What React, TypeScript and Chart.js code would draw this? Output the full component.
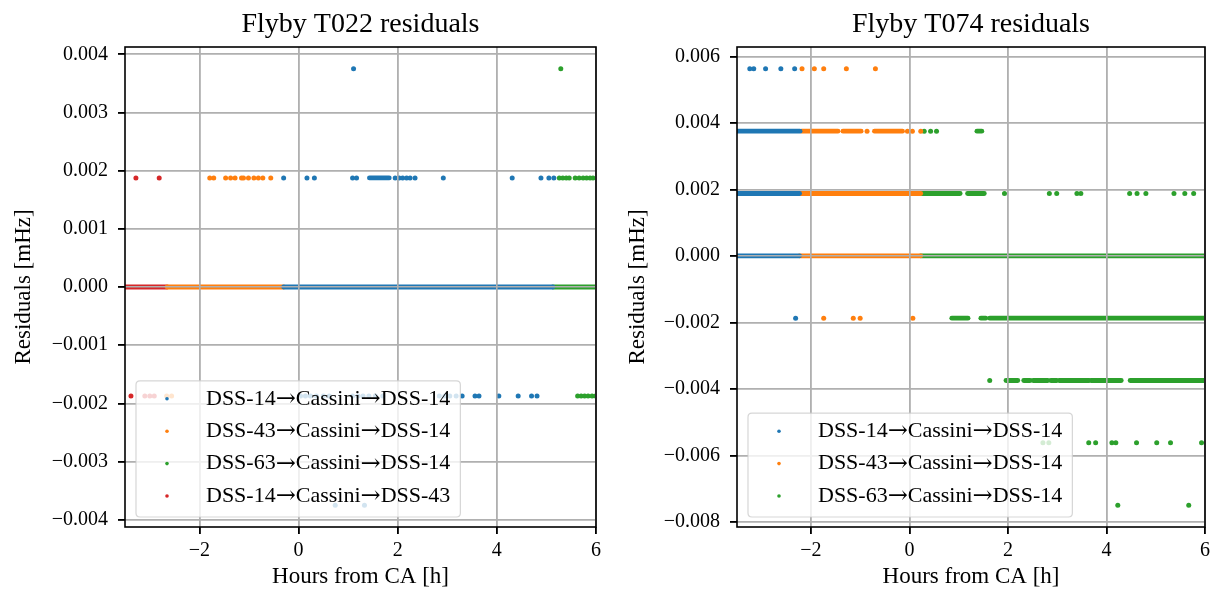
import React, { useEffect, useRef } from "react";
import { Chart, registerables } from "chart.js";

Chart.register(...registerables);

const FONT = "'Liberation Serif', 'DejaVu Serif', serif";
const ARROW_FONT = "24px 'DejaVu Serif', serif";

const seriesColors = ["#1f77b4", "#ff7f0e", "#2ca02c", "#d62728"];

const xTicks = [-2, 0, 2, 4, 6];
const xRange = [-3.5, 6];

// ---------------- Flyby T022 ----------------
const t022Title = "Flyby T022 residuals";
const t022Labels = [
  "DSS-14→Cassini→DSS-14",
  "DSS-43→Cassini→DSS-14",
  "DSS-63→Cassini→DSS-14",
  "DSS-14→Cassini→DSS-43",
];
const t022YTicks = [-0.004, -0.003, -0.002, -0.001, 0, 0.001, 0.002, 0.003, 0.004];
const t022YRange = [-0.004125, 0.004125];

const t022Dss14Points: [number, number][] = [
  [1.11, 0.00375],
  [-0.3, 0.001875], [0.17, 0.001875], [0.32, 0.001875], [1.09, 0.001875], [1.17, 0.001875],
  [1.95, 0.001875], [2.03, 0.001875], [2.1, 0.001875], [2.18, 0.001875], [2.25, 0.001875],
  [2.35, 0.001875], [2.92, 0.001875], [4.31, 0.001875], [4.89, 0.001875], [5.05, 0.001875],
  [5.15, 0.001875],
  [0.04, -0.001875], [0.14, -0.001875], [0.24, -0.001875], [0.36, -0.001875], [0.5, -0.001875],
  [0.62, -0.001875], [1.09, -0.001875], [1.2, -0.001875], [1.3, -0.001875], [1.42, -0.001875],
  [1.55, -0.001875], [1.7, -0.001875], [2.84, -0.001875], [2.95, -0.001875], [3.05, -0.001875],
  [3.18, -0.001875], [3.3, -0.001875], [3.56, -0.001875], [3.64, -0.001875], [4.04, -0.001875],
  [4.43, -0.001875], [4.7, -0.001875], [4.81, -0.001875],
  [0.74, -0.00375], [1.33, -0.00375],
];
const t022Dss14Runs: [number, number, number][] = [
  [-0.3, 5.13, 0],
  [1.43, 1.83, 0.001875],
];
const t022Dss43Points: [number, number][] = [
  [-1.79, 0.001875], [-1.71, 0.001875], [-1.47, 0.001875], [-1.37, 0.001875], [-1.28, 0.001875],
  [-1.15, 0.001875], [-1.11, 0.001875], [-1.01, 0.001875], [-0.9, 0.001875], [-0.81, 0.001875],
  [-0.72, 0.001875], [-0.56, 0.001875],
  [-2.66, -0.001875], [-2.56, -0.001875],
];
const t022Dss43Runs: [number, number, number][] = [[-2.65, -0.3, 0]];
const t022Dss63Points: [number, number][] = [
  [5.29, 0.00375],
  [5.26, 0.001875], [5.33, 0.001875], [5.4, 0.001875], [5.46, 0.001875], [5.58, 0.001875],
  [5.66, 0.001875], [5.74, 0.001875], [5.81, 0.001875], [5.88, 0.001875], [5.94, 0.001875],
  [5.63, -0.001875], [5.7, -0.001875], [5.77, -0.001875], [5.84, -0.001875], [5.92, -0.001875],
  [5.99, -0.001875],
];
const t022Dss63Runs: [number, number, number][] = [[5.13, 6.0, 0]];
const t022Dss14to43Points: [number, number][] = [
  [-3.28, 0.001875], [-2.81, 0.001875],
  [-3.38, -0.001875], [-3.1, -0.001875], [-3.0, -0.001875], [-2.91, -0.001875],
];
const t022Dss14to43Runs: [number, number, number][] = [[-3.5, -2.65, 0]];

// ---------------- Flyby T074 ----------------
const t074Title = "Flyby T074 residuals";
const t074Labels = [
  "DSS-14→Cassini→DSS-14",
  "DSS-43→Cassini→DSS-14",
  "DSS-63→Cassini→DSS-14",
];
const t074YTicks = [-0.008, -0.006, -0.004, -0.002, 0, 0.002, 0.004, 0.006];
const t074YRange = [-0.0081563, 0.0062813];

const t074Dss14Points: [number, number][] = [
  [-3.24, 0.005625], [-3.16, 0.005625], [-2.92, 0.005625], [-2.61, 0.005625], [-2.33, 0.005625],
  [-2.31, -0.001875],
];
const t074Dss14Runs: [number, number, number][] = [
  [-3.5, -2.22, 0.00375],
  [-3.5, -2.23, 0.001875],
  [-3.5, -2.23, 0],
];
const t074Dss43Points: [number, number][] = [
  [-2.18, 0.005625], [-1.93, 0.005625], [-1.74, 0.005625], [-1.28, 0.005625], [-0.69, 0.005625],
  [-0.86, 0.00375], [-0.04, 0.00375], [0.06, 0.00375], [0.23, 0.00375],
  [-1.74, -0.001875], [-1.14, -0.001875], [-1.0, -0.001875], [0.07, -0.001875],
];
const t074Dss43Runs: [number, number, number][] = [
  [-2.19, -1.45, 0.00375],
  [-1.35, -0.98, 0.00375],
  [-0.71, -0.14, 0.00375],
  [-2.23, 0.23, 0.001875],
  [-2.23, 0.23, 0],
];
const t074Dss63Points: [number, number][] = [
  [0.3, 0.00375], [0.43, 0.00375], [0.55, 0.00375],
  [1.93, 0.001875], [2.84, 0.001875], [2.99, 0.001875], [3.4, 0.001875], [3.48, 0.001875],
  [4.47, 0.001875], [4.62, 0.001875], [4.8, 0.001875], [5.37, 0.001875], [5.59, 0.001875],
  [5.77, 0.001875],
  [1.63, -0.00375],
  [2.71, -0.005625], [2.83, -0.005625], [3.64, -0.005625], [3.78, -0.005625], [4.11, -0.005625],
  [4.19, -0.005625], [4.61, -0.005625], [5.02, -0.005625], [5.3, -0.005625], [5.93, -0.005625],
  [4.23, -0.0075], [5.67, -0.0075],
];
const t074Dss63Runs: [number, number, number][] = [
  [1.37, 1.47, 0.00375],
  [0.25, 1.03, 0.001875],
  [1.18, 1.52, 0.001875],
  [0.23, 6.0, 0],
  [0.86, 1.19, -0.001875],
  [1.45, 1.55, -0.001875],
  [1.63, 6.0, -0.001875],
  [1.96, 2.2, -0.00375],
  [2.32, 2.45, -0.00375],
  [2.51, 2.81, -0.00375],
  [2.87, 2.99, -0.00375],
  [3.04, 3.65, -0.00375],
  [3.69, 3.98, -0.00375],
  [4.01, 4.3, -0.00375],
  [4.48, 6.0, -0.00375],
];

type Series = {
  label: string;
  color: string;
  points: [number, number][];
  runs: [number, number, number][];
};

const t022Series: Series[] = [
  { label: t022Labels[0], color: seriesColors[0], points: t022Dss14Points, runs: t022Dss14Runs },
  { label: t022Labels[1], color: seriesColors[1], points: t022Dss43Points, runs: t022Dss43Runs },
  { label: t022Labels[2], color: seriesColors[2], points: t022Dss63Points, runs: t022Dss63Runs },
  { label: t022Labels[3], color: seriesColors[3], points: t022Dss14to43Points, runs: t022Dss14to43Runs },
];
const t074Series: Series[] = [
  { label: t074Labels[0], color: seriesColors[0], points: t074Dss14Points, runs: t074Dss14Runs },
  { label: t074Labels[1], color: seriesColors[1], points: t074Dss43Points, runs: t074Dss43Runs },
  { label: t074Labels[2], color: seriesColors[2], points: t074Dss63Points, runs: t074Dss63Runs },
];

const fmtSigned = (v: number, digits: number) => {
  const s = Math.abs(v).toFixed(digits);
  return (v < -1e-12 ? "\u2212" : "") + s;
};

// split a label into text / arrow pieces so the arrow can use a font with a full-size glyph
const labelPieces = (label: string) => {
  const out: { t: string; arrow: boolean }[] = [];
  label.split("→").forEach((part, i) => {
    if (i > 0) out.push({ t: "→", arrow: true });
    if (part) out.push({ t: part, arrow: false });
  });
  return out;
};

const overlayPlugin = {
  id: "overlay",
  afterDatasetsDraw(chart: any, _args: any, opts: any) {
    const { ctx, chartArea: a } = chart;
    // grid above data (matplotlib draws grid over scatter collections)
    chart.scales.x.drawGrid(a);
    chart.scales.y.drawGrid(a);
    // frame
    ctx.save();
    ctx.strokeStyle = "#000";
    ctx.lineWidth = 1.6;
    ctx.strokeRect(a.left, a.top, a.right - a.left, a.bottom - a.top);
    ctx.restore();
    // legend
    const items: { label: string; color: string }[] = opts.items || [];
    if (!items.length) return;
    ctx.save();
    const textFont = `22px ${FONT}`;
    const measure = (label: string) => {
      let w = 0;
      labelPieces(label).forEach((pc) => {
        ctx.font = pc.arrow ? ARROW_FONT : textFont;
        w += ctx.measureText(pc.t).width;
      });
      return w;
    };
    let maxW = 0;
    items.forEach((it) => {
      maxW = Math.max(maxW, measure(it.label));
    });
    const rowH = 32.4;
    const w = 70 + maxW + 10;
    const h = 18 + (items.length - 1) * rowH + 21;
    const x0 = a.left + 11;
    const y0 = a.bottom - 10 - h;
    const r = 4;
    ctx.beginPath();
    ctx.moveTo(x0 + r, y0);
    ctx.lineTo(x0 + w - r, y0);
    ctx.quadraticCurveTo(x0 + w, y0, x0 + w, y0 + r);
    ctx.lineTo(x0 + w, y0 + h - r);
    ctx.quadraticCurveTo(x0 + w, y0 + h, x0 + w - r, y0 + h);
    ctx.lineTo(x0 + r, y0 + h);
    ctx.quadraticCurveTo(x0, y0 + h, x0, y0 + h - r);
    ctx.lineTo(x0, y0 + r);
    ctx.quadraticCurveTo(x0, y0, x0 + r, y0);
    ctx.closePath();
    ctx.fillStyle = "rgba(255,255,255,0.8)";
    ctx.fill();
    ctx.strokeStyle = "rgba(204,204,204,0.8)";
    ctx.lineWidth = 1.2;
    ctx.stroke();
    items.forEach((it, i) => {
      const cy = y0 + 18 + i * rowH;
      ctx.beginPath();
      ctx.arc(x0 + 31, cy, 1.8, 0, Math.PI * 2);
      ctx.fillStyle = it.color;
      ctx.fill();
      ctx.fillStyle = "#000";
      ctx.textBaseline = "middle";
      ctx.textAlign = "left";
      let tx = x0 + 70;
      labelPieces(it.label).forEach((pc) => {
        ctx.font = pc.arrow ? ARROW_FONT : textFont;
        ctx.fillText(pc.t, tx, pc.arrow ? cy + 1 : cy);
        tx += ctx.measureText(pc.t).width;
      });
    });
    ctx.restore();
  },
};

type PanelProps = {
  title: string;
  series: Series[];
  yRange: number[];
  yTicks: number[];
  left: number;
  width: number;
  yAxisWidth: number;
  yTitlePad: number;
  rightPad: number;
};

function Panel(p: PanelProps) {
  const ref = useRef<HTMLCanvasElement | null>(null);
  useEffect(() => {
    if (!ref.current) return;
    const datasets: any[] = [];
    p.series.forEach((s) => {
      s.runs.forEach(([x0, x1, y]) => {
        datasets.push({
          label: s.label,
          data: [
            { x: x0, y },
            { x: x1, y },
          ],
          showLine: true,
          borderColor: s.color,
          borderWidth: 4.8,
          borderCapStyle: "round",
          pointRadius: 0,
          fill: false,
        });
      });
      datasets.push({
        label: s.label,
        data: s.points.map(([x, y]) => ({ x, y })),
        showLine: false,
        pointRadius: 2.5,
        pointBorderWidth: 0,
        pointBackgroundColor: s.color,
        backgroundColor: s.color,
        borderColor: s.color,
      });
    });
    const tickFont = { family: FONT, size: 20 };
    const chart = new Chart(ref.current, {
      type: "scatter",
      data: { datasets },
      options: {
        animation: false,
        responsive: false,
        events: [],
        layout: { padding: { left: 0, right: p.rightPad, top: 0, bottom: 0 } },
        plugins: {
          legend: { display: false },
          tooltip: { enabled: false },
          title: {
            display: true,
            text: p.title,
            fullSize: false,
            color: "#000",
            font: { family: FONT, size: 28, weight: "normal" as any },
            padding: { top: 8, bottom: 5.4 },
          },
          overlay: { items: p.series.map((s) => ({ label: s.label, color: s.color })) },
        } as any,
        scales: {
          x: {
            type: "linear",
            min: xRange[0],
            max: xRange[1],
            afterFit: (s: any) => {
              s.height = 65;
            },
            afterBuildTicks: (s: any) => {
              s.ticks = xTicks.map((v) => ({ value: v }));
            },
            ticks: {
              autoSkip: false,
              maxRotation: 0,
              color: "#000",
              font: tickFont,
              padding: 5,
              callback: (v: any) => fmtSigned(Number(v), 0),
            },
            grid: {
              color: "#b0b0b0",
              lineWidth: 1.6,
              tickColor: "#000",
              tickWidth: 1.6,
              tickLength: 7,
            },
            border: { display: false },
            title: {
              display: true,
              text: "Hours from CA [h]",
              color: "#000",
              font: { family: FONT, size: 23 },
              padding: { top: 0, bottom: 1 },
            },
          },
          y: {
            type: "linear",
            min: p.yRange[0],
            max: p.yRange[1],
            afterFit: (s: any) => {
              s.width = p.yAxisWidth;
            },
            afterBuildTicks: (s: any) => {
              s.ticks = p.yTicks.map((v) => ({ value: v }));
            },
            ticks: {
              autoSkip: false,
              color: "#000",
              font: tickFont,
              padding: 10,
              callback: (v: any) => fmtSigned(Number(v), 3),
            },
            grid: {
              color: "#b0b0b0",
              lineWidth: 1.6,
              tickColor: "#000",
              tickWidth: 1.6,
              tickLength: 7,
            },
            border: { display: false },
            title: {
              display: true,
              text: "Residuals [mHz]",
              color: "#000",
              font: { family: FONT, size: 23 },
              padding: { top: p.yTitlePad, bottom: 0 },
            },
          },
        },
      } as any,
      plugins: [overlayPlugin as any],
    });
    return () => chart.destroy();
  }, []);
  return (
    <canvas
      ref={ref}
      width={p.width}
      height={592}
      style={{ position: "absolute", left: p.left, top: 0, width: p.width, height: 592 }}
    />
  );
}

export default function App() {
  return (
    <div
      style={{
        position: "absolute",
        left: 0,
        top: 0,
        width: 1215,
        height: 592,
        background: "#fff",
        overflow: "hidden",
      }}
    >
      <Panel
        title={t022Title}
        series={t022Series}
        yRange={t022YRange}
        yTicks={t022YTicks}
        left={0}
        width={610}
        yAxisWidth={125}
        yTitlePad={10}
        rightPad={14}
      />
      <Panel
        title={t074Title}
        series={t074Series}
        yRange={t074YRange}
        yTicks={t074YTicks}
        left={610}
        width={605}
        yAxisWidth={127}
        yTitlePad={14}
        rightPad={7}
      />
    </div>
  );
}
